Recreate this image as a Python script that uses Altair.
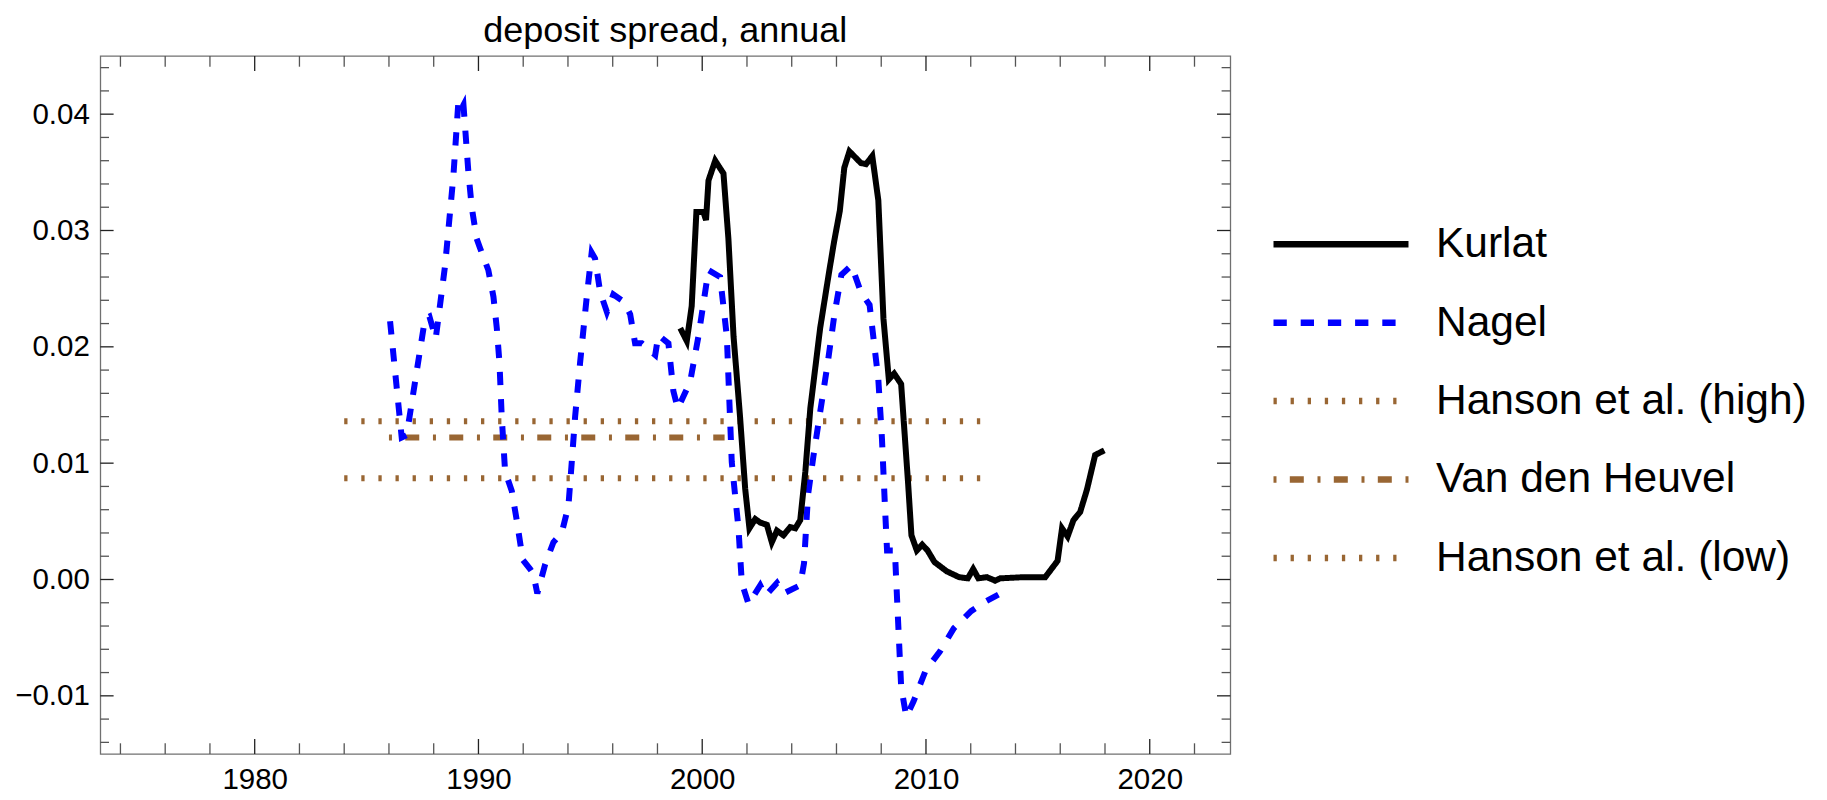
import altair as alt
import pandas as pd
import numpy as np

TITLE = "deposit spread, annual"

series_names = ["Kurlat", "Nagel", "Hanson et al. (high)", "Van den Heuvel", "Hanson et al. (low)"]
series_colors = ["#000000", "#0000ff", "#996633", "#996633", "#996633"]
series_dashes = [[1, 0], [13.3, 13.9], [3.3, 13.8], [3, 13.3, 14, 13.7], [3.3, 13.8]]

kurlat_year = [1999.02, 1999.31, 1999.53, 1999.74, 2000.05, 2000.17, 2000.28, 2000.58, 2000.95,
               2001.17, 2001.40, 2001.69, 2001.92, 2002.11, 2002.37, 2002.59, 2002.89, 2003.11,
               2003.34, 2003.63, 2003.93, 2004.16, 2004.38, 2004.61, 2004.83, 2005.27, 2005.65,
               2005.89, 2006.15, 2006.35, 2006.58, 2007.09, 2007.32, 2007.60, 2007.87, 2008.10,
               2008.34, 2008.58, 2008.89, 2009.20, 2009.35, 2009.59, 2009.83, 2010.07, 2010.38,
               2010.93, 2011.48, 2011.87, 2012.11, 2012.34, 2012.72, 2013.09, 2013.32, 2014.36,
               2015.33, 2015.88, 2016.08, 2016.33, 2016.59, 2016.89, 2017.19, 2017.56, 2017.97]
kurlat_value = [0.0216, 0.0205, 0.0235, 0.0316, 0.0316, 0.0309, 0.0343, 0.0360, 0.0349,
                0.0293, 0.0209, 0.0140, 0.0078, 0.0044, 0.0052, 0.0049, 0.0047, 0.0032,
                0.0042, 0.0038, 0.0045, 0.0044, 0.0051, 0.0093, 0.0147, 0.0216, 0.0262,
                0.0290, 0.0317, 0.0354, 0.0368, 0.0358, 0.0357, 0.0364, 0.0326, 0.0224,
                0.0172, 0.0177, 0.0168, 0.0083, 0.0038, 0.0025, 0.0030, 0.0025, 0.0015,
                0.0007, 0.0002, 0.0001, 0.0009, 0.0001, 0.0002, -0.0001, 0.0001, 0.0002,
                0.0002, 0.0016, 0.0044, 0.0037, 0.0051, 0.0058, 0.0077, 0.0107, 0.0111]

nagel_year = [1986.05, 1986.57, 1986.79, 1987.61, 1987.81, 1988.09, 1988.51, 1988.88, 1989.10,
              1989.22, 1989.33, 1989.55, 1989.70, 1989.92, 1990.07, 1990.44, 1990.67, 1990.82,
              1990.94, 1991.04, 1991.19, 1991.49, 1991.71, 1991.98, 1992.31, 1992.45, 1992.63,
              1992.98, 1993.35, 1993.72, 1994.02, 1994.17, 1994.32, 1994.54, 1994.84, 1995.06,
              1995.21, 1995.44, 1995.74, 1996.03, 1996.48, 1996.78, 1997.00, 1997.30, 1997.90,
              1998.04, 1998.49, 1998.71, 1998.91, 1999.46, 1999.83, 2000.28, 2000.80, 2001.10,
              2001.32, 2001.62, 2001.77, 2002.07, 2002.59, 2002.82, 2003.34, 2003.63, 2004.38,
              2004.55, 2004.73, 2004.97, 2005.28, 2005.60, 2005.91, 2006.22, 2006.67, 2007.09,
              2007.48, 2007.87, 2008.03, 2008.18, 2008.26, 2008.61, 2008.73, 2008.89, 2009.12,
              2009.44, 2009.99, 2010.62, 2011.24, 2012.03, 2012.65, 2013.42]
nagel_value = [0.0222, 0.0122, 0.0124, 0.0224, 0.0226, 0.0207, 0.0270, 0.0347, 0.0410,
               0.0404, 0.0408, 0.0350, 0.0320, 0.0293, 0.0285, 0.0266, 0.0243, 0.0216,
               0.0186, 0.0140, 0.0093, 0.0076, 0.0051, 0.0017, 0.0009, 0.0005, -0.0012,
               0.0013, 0.0032, 0.0040, 0.0063, 0.0101, 0.0140, 0.0186, 0.0243, 0.0281,
               0.0276, 0.0247, 0.0230, 0.0245, 0.0239, 0.0228, 0.0203, 0.0203, 0.0193,
               0.0210, 0.0203, 0.0162, 0.0147, 0.0170, 0.0209, 0.0266, 0.0260, 0.0209,
               0.0101, 0.0044, -0.0003, -0.0021, -0.0005, -0.0014, -0.0003, -0.0012, -0.0005,
               0.0014, 0.0073, 0.0106, 0.0145, 0.0185, 0.0228, 0.0262, 0.0270, 0.0247,
               0.0236, 0.0172, 0.0122, 0.0057, 0.0025, 0.0025, -0.0026, -0.0092, -0.0118,
               -0.0105, -0.0078, -0.0062, -0.0042, -0.0027, -0.0019, -0.0011]

hanson_high_year = [1984.0, 2013.0]
hanson_high_value = [0.0136, 0.0136]
vdh_year = [1986.0, 2001.0]
vdh_value = [0.0122, 0.0122]
hanson_low_year = [1984.0, 2013.0]
hanson_low_value = [0.0087, 0.0087]

x_label_values = [1980, 1990, 2000, 2010, 2020]
y_label_values = [-0.01, 0.0, 0.01, 0.02, 0.03, 0.04]
x_minor_values = [1974, 1976, 1978, 1982, 1984, 1986, 1988, 1992, 1994, 1996, 1998,
                  2002, 2004, 2006, 2008, 2012, 2014, 2016, 2018, 2022]
y_minor_values = [-0.014, -0.012, -0.008, -0.006, -0.004, -0.002, 0.002, 0.004, 0.006, 0.008,
                  0.012, 0.014, 0.016, 0.018, 0.022, 0.024, 0.026, 0.028, 0.032, 0.034,
                  0.036, 0.038, 0.042, 0.044]

X_DOMAIN = [1973.1, 2023.6]
Y_DOMAIN = [-0.015, 0.045]
W, H = 1130, 698
FONT = "Liberation Sans"

frames = []
for name, yrs, vals in [
    ("Hanson et al. (high)", hanson_high_year, hanson_high_value),
    ("Hanson et al. (low)", hanson_low_year, hanson_low_value),
    ("Van den Heuvel", vdh_year, vdh_value),
    ("Nagel", nagel_year, nagel_value),
    ("Kurlat", kurlat_year, kurlat_value),
]:
    frames.append(pd.DataFrame({"series": name, "year": yrs, "value": vals}))
df = pd.concat(frames, ignore_index=True)
df["ord"] = np.arange(len(df))

xs = alt.Scale(domain=X_DOMAIN, nice=False, zero=False)
ys = alt.Scale(domain=Y_DOMAIN, nice=False, zero=False)

x_axis = alt.Axis(values=x_label_values, format="d", ticks=False, domain=False, grid=False,
                  labelFont=FONT, labelFontSize=29.5, labelColor="black", labelPadding=12)
y_axis = alt.Axis(values=y_label_values, format=".2f", ticks=False, domain=False, grid=False,
                  labelFont=FONT, labelFontSize=29.5, labelColor="black", labelPadding=11)

legend = alt.Legend(
    title=None, orient="none", legendX=1169.7, legendY=167.3, padding=0,
    symbolType="stroke", symbolSize=135 * 135, symbolStrokeWidth=6.5,
    labelFont=FONT, labelFontSize=42.5, labelColor="black", labelOffset=24,
    rowPadding=35.4, clipHeight=42, labelLimit=600,
)

lines = alt.Chart(df).mark_line(strokeWidth=6, strokeJoin="miter").encode(
    x=alt.X("year:Q", scale=xs, title=None, axis=x_axis),
    y=alt.Y("value:Q", scale=ys, title=None, axis=y_axis),
    color=alt.Color("series:N", scale=alt.Scale(domain=series_names, range=series_colors), legend=legend),
    strokeDash=alt.StrokeDash("series:N", scale=alt.Scale(domain=series_names, range=series_dashes), legend=legend),
    order="ord:Q",
)

xmaj = pd.DataFrame({"year": x_label_values})
xmin = pd.DataFrame({"year": x_minor_values})
ymaj = pd.DataFrame({"value": y_label_values})
ymin = pd.DataFrame({"value": y_minor_values})

def xticks(d, length, color):
    bx = alt.X("year:Q", scale=xs, title=None, axis=x_axis)
    bottom = alt.Chart(d).mark_rule(color=color, strokeWidth=1.3).encode(
        x=bx, y=alt.value(H), y2=alt.value(H - length))
    top = alt.Chart(d).mark_rule(color=color, strokeWidth=1.3).encode(
        x=bx, y=alt.value(0), y2=alt.value(length))
    return [bottom, top]

def yticks(d, length, color):
    by = alt.Y("value:Q", scale=ys, title=None, axis=y_axis)
    left = alt.Chart(d).mark_rule(color=color, strokeWidth=1.3).encode(
        y=by, x=alt.value(0), x2=alt.value(length))
    right = alt.Chart(d).mark_rule(color=color, strokeWidth=1.3).encode(
        y=by, x=alt.value(W), x2=alt.value(W - length))
    return [left, right]

tick_layers = (xticks(xmaj, 15, "#222222") + xticks(xmin, 10.7, "#555555")
               + yticks(ymaj, 13.3, "#222222") + yticks(ymin, 8.7, "#555555"))

chart = alt.layer(lines, *tick_layers).properties(
    width=W, height=H,
    title=alt.TitleParams(TITLE, font=FONT, fontSize=36, fontWeight="normal", color="black",
                          anchor="middle", frame="group", offset=5),
    autosize=alt.AutoSizeParams(type="none"),
    padding={"left": 92.3, "top": 48, "right": 580, "bottom": 44},
).configure_view(stroke="#707070", strokeWidth=1.3)

chart.save("out.html", embed_options={"renderer": "svg", "actions": False})
